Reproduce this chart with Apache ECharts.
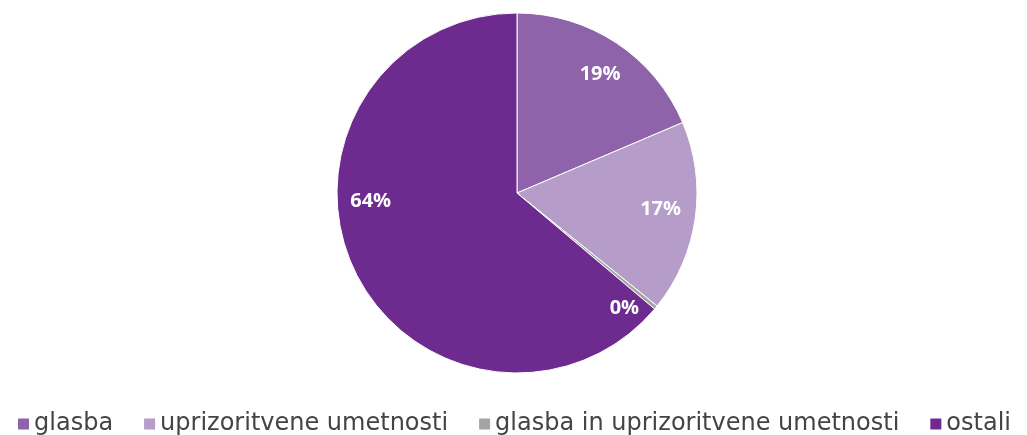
<!DOCTYPE html>
<html>
<head>
<meta charset="utf-8">
<script src="https://cdn.jsdelivr.net/npm/echarts@6/dist/echarts.min.js"></script>
<style>
html, body { margin: 0; padding: 0; background: #fff; }
#main { width: 1027px; height: 435px; }
</style>
</head>
<body>
<div id="main"></div>
<script>
// podatki
const categories = ['glasba', 'uprizoritvene umetnosti', 'glasba in uprizoritvene umetnosti', 'ostali'];
const values = [18.6, 17.2, 0.35, 63.85];
const colors = ['#8e63aa', '#b59cc9', '#a5a5a7', '#6e2b8f'];
// premik oznak (kot v Excelu)
const labelOffsets = [[2, 4], [-2, -4], [-6, 22], [-13, -54]];

const data = categories.map((name, i) => ({ name: name, value: values[i], itemStyle: { color: colors[i] } }));
const labelData = categories.map((name, i) => ({
    name: name,
    value: values[i],
    label: { offset: labelOffsets[i] }
}));

const chart = echarts.init(document.getElementById('main'));
chart.setOption({
    animation: false,
    legend: {
        data: categories,
        bottom: -6,
        left: 'center',
        icon: 'rect',
        itemWidth: 13,
        itemHeight: 13,
        itemGap: 29,
        textStyle: { fontFamily: 'DejaVu Sans', fontSize: 24, color: '#444', padding: [0, 0, 0, -1] }
    },
    series: [
        {
            type: 'pie',
            center: [517, 193],
            radius: [0, 180],
            startAngle: 90,
            clockwise: true,
            label: { show: false },
            labelLine: { show: false },
            itemStyle: { borderColor: '#fff', borderWidth: 1 },
            data: data
        },
        {
            // samo oznake, na ~80% polmera
            type: 'pie',
            center: [517, 193],
            radius: [108, 180],
            startAngle: 90,
            clockwise: true,
            silent: true,
            legendHoverLink: false,
            itemStyle: { color: 'rgba(0,0,0,0)' },
            label: {
                show: true,
                position: 'inside',
                formatter: p => Math.round(p.value) + '%',
                color: '#fff',
                fontFamily: 'Open Sans',
                fontWeight: 'bold',
                fontSize: 20
            },
            labelLine: { show: false },
            data: labelData
        }
    ]
});
</script>
</body>
</html>
